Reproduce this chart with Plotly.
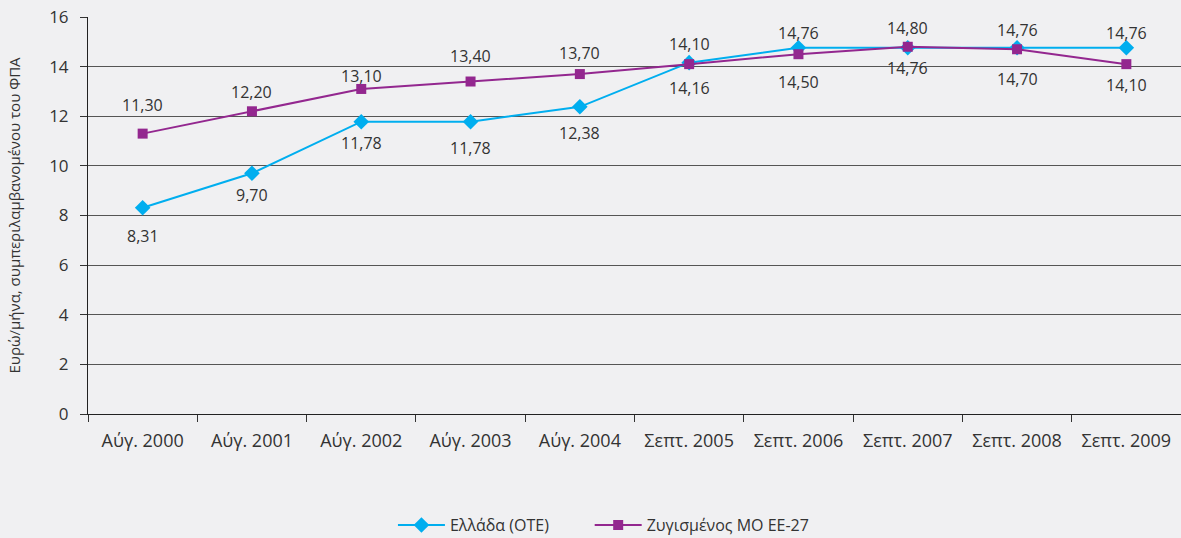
import plotly.graph_objects as go

categories = ["Αύγ. 2000", "Αύγ. 2001", "Αύγ. 2002", "Αύγ. 2003", "Αύγ. 2004",
              "Σεπτ. 2005", "Σεπτ. 2006", "Σεπτ. 2007", "Σεπτ. 2008", "Σεπτ. 2009"]
greece = [8.31, 9.70, 11.78, 11.78, 12.38, 14.16, 14.76, 14.76, 14.76, 14.76]
eu27 = [11.30, 12.20, 13.10, 13.40, 13.70, 14.10, 14.50, 14.80, 14.70, 14.10]

# label offsets in pixels (positive = above the point)
greece_label_shift = [-28, -22, -21, -26, -26, -25, 15, -20, 18, 15]
eu_label_shift = [29, 19, 13, 26, 21, 20, -28, 19, -30, -21]

def fmt(v):
    return f"{v:.2f}".replace(".", ",")

font_family = "Open Sans, Noto Sans, sans-serif"
txt_color = "#333333"
bg = "#f0f0f2"

fig = go.Figure()
fig.add_trace(go.Scatter(
    x=categories, y=greece, name="Ελλάδα (ΟΤΕ)", mode="lines+markers",
    line=dict(color="#00aeef", width=2),
    marker=dict(symbol="diamond", size=12, color="#00aeef"),
    cliponaxis=False, legend="legend",
))
fig.add_trace(go.Scatter(
    x=categories, y=eu27, name="Ζυγισμένος ΜΟ ΕΕ-27", mode="lines+markers",
    line=dict(color="#93278f", width=2),
    marker=dict(symbol="square", size=10, color="#93278f"),
    cliponaxis=False, legend="legend2",
))

annotations = []
for series, shifts in ((greece, greece_label_shift), (eu27, eu_label_shift)):
    for c, v, s in zip(categories, series, shifts):
        annotations.append(dict(
            x=c, y=v, xref="x", yref="y", text=fmt(v), showarrow=False,
            yshift=s, font=dict(size=16, color=txt_color, family=font_family),
        ))

legend_common = dict(orientation="h", xanchor="left",
                     yref="container", y=0.024, yanchor="middle",
                     font=dict(size=16, color=txt_color), bgcolor="rgba(0,0,0,0)",
                     itemwidth=47)

fig.update_layout(
    width=1181, height=538,
    paper_bgcolor=bg, plot_bgcolor=bg,
    margin=dict(l=88, r=0, t=17, b=124, autoexpand=False),
    font=dict(family=font_family, size=17, color=txt_color),
    showlegend=True,
    annotations=annotations,
    legend=dict(x=0.279, **legend_common),
    legend2=dict(x=0.459, **legend_common),
    xaxis=dict(
        type="category", tickson="boundaries", ticks="outside", ticklen=7,
        tickcolor="#333333", showline=True, linecolor="#222222", linewidth=1,
        showgrid=False, tickfont=dict(size=18, color=txt_color),
        ticklabelstandoff=10,
        range=[-0.5, 9.5],
    ),
    yaxis=dict(
        range=[0, 16], dtick=2, ticks="outside", ticklen=7, tickcolor="#333333",
        showline=True, linecolor="#222222", linewidth=1,
        showgrid=True, gridcolor="#555555", gridwidth=1,
        zeroline=False,
        tickfont=dict(size=17, color=txt_color),
        ticklabelstandoff=8,
        title=dict(text="Ευρώ/μήνα, συμπεριλαμβανομένου του ΦΠΑ",
                   font=dict(size=15, color=txt_color), standoff=24),
    ),
)
fig.write_html(
    "out.html",
    config={"displayModeBar": False},
    post_script="document.body.style.margin='0';document.body.style.background='%s';" % bg,
)
